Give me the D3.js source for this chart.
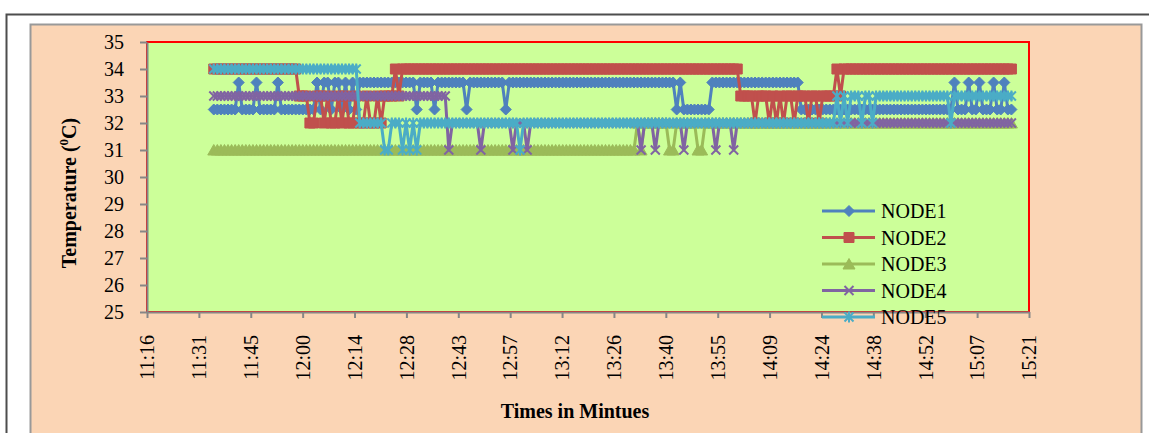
<!DOCTYPE html>
<html>
<head>
<meta charset="utf-8">
<script src="https://cdn.jsdelivr.net/npm/d3@7"></script>
<style>
html, body { margin: 0; padding: 0; background: #fff; }
svg { display: block; }
</style>
</head>
<body>
<svg id="chart" width="1149" height="433"></svg>
<script>
// ---- data -------------------------------------------------------------
const seriesNames = ['NODE1', 'NODE2', 'NODE3', 'NODE4', 'NODE5'];
const seriesColors = ['#4F81BD', '#C0504D', '#9BBB59', '#8064A2', '#4BACC6'];

// roughly one reading per minute starting here
const firstSample = '11:35:20';
const sampleStepSeconds = 59.3;

const node1 = [
  32.5,32.5,32.5,32.5,32.5,32.5,32.5,33.5,32.5,32.5,32.5,32.5,33.5,32.5,32.5,
  32.5,32.5,32.5,33.5,32.5,32.5,32.5,32.5,32.5,32.5,32.5,32.5,32.5,32.5,33.5,
  32.5,33.5,33.5,32.5,33.5,33.5,32.5,33.5,32.5,33.5,32.5,33.5,33.5,33.5,33.5,
  33.5,33.5,33.5,33.5,33.5,33.5,33.5,33.5,33.5,33.5,33.5,33.5,32.5,33.5,33.5,
  33.5,33.5,32.5,33.5,33.5,33.5,33.5,33.5,33.5,33.5,33.5,32.5,33.5,33.5,33.5,
  33.5,33.5,33.5,33.5,33.5,33.5,33.5,32.5,33.5,33.5,33.5,33.5,33.5,33.5,33.5,
  33.5,33.5,33.5,33.5,33.5,33.5,33.5,33.5,33.5,33.5,33.5,33.5,33.5,33.5,33.5,
  33.5,33.5,33.5,33.5,33.5,33.5,33.5,33.5,33.5,33.5,33.5,33.5,33.5,33.5,33.5,
  33.5,33.5,33.5,33.5,33.5,33.5,33.5,33.5,33.5,33.5,32.5,33.5,32.5,32.5,32.5,
  32.5,32.5,32.5,32.5,32.5,33.5,33.5,33.5,33.5,33.5,33.5,33.5,33.5,33.5,33.5,
  33.5,33.5,33.5,33.5,33.5,33.5,33.5,33.5,33.5,33.5,33.5,33.5,33.5,33.5,33.5,
  32.5,32.5,32.5,32.5,32.5,32.5,32.5,32.5,32.5,32.5,32.5,32.5,32.5,32.5,32.5,
  32.5,32.5,32.5,32.5,32.5,32.5,32.5,32.5,32.5,32.5,32.5,32.5,32.5,32.5,32.5,
  32.5,32.5,32.5,32.5,32.5,32.5,32.5,32.5,32.5,32.5,32.5,32.5,32.5,33.5,32.5,
  32.5,32.5,33.5,32.5,32.5,33.5,32.5,32.5,32.5,33.5,32.5,32.5,33.5,32.5,32.5
];

const node2 = [
  34,34,34,34,34,34,34,34,34,34,34,34,34,34,34,
  34,34,34,34,34,34,34,34,34,33,33,33,32,32,33,
  33,32,33,32,32,33,32,33,32,32,33,32,32,33,32,
  32,33,32,33,33,33,34,33,34,34,34,34,34,34,34,
  34,34,34,34,34,34,34,34,34,34,34,34,34,34,34,
  34,34,34,34,34,34,34,34,34,34,34,34,34,34,34,
  34,34,34,34,34,34,34,34,34,34,34,34,34,34,34,
  34,34,34,34,34,34,34,34,34,34,34,34,34,34,34,
  34,34,34,34,34,34,34,34,34,34,34,34,34,34,34,
  34,34,34,34,34,34,34,34,34,34,34,34,34,33,33,
  33,33,32,33,33,33,32,33,32,33,32,33,33,32,33,
  33,33,32,33,33,32,33,33,33,33,34,33,34,34,34,
  34,34,34,34,34,34,34,34,34,34,34,34,34,34,34,
  34,34,34,34,34,34,34,34,34,34,34,34,34,34,34,
  34,34,34,34,34,34,34,34,34,34,34,34,34,34,34
];

const node3 = [
  31,31,31,31,31,31,31,31,31,31,31,31,31,31,31,
  31,31,31,31,31,31,31,31,31,31,31,31,31,31,31,
  31,31,31,31,31,31,31,31,31,31,31,31,31,31,31,
  31,31,31,31,31,31,31,31,31,31,31,31,31,31,31,
  31,31,31,31,31,31,31,31,31,31,31,31,31,31,31,
  31,31,31,31,31,31,31,31,31,31,31,31,31,31,31,
  31,31,31,31,31,31,31,31,31,31,31,31,31,31,31,
  31,31,31,31,31,31,31,31,31,31,31,31,31,31,32,
  31,32,32,32,32,32,32,32,31,31,32,32,32,32,32,
  32,31,31,32,32,32,32,32,32,32,32,32,32,32,32,
  32,32,32,32,32,32,32,32,32,32,32,32,32,32,32,
  32,32,32,32,32,32,32,32,32,32,32,32,32,32,32,
  32,32,32,32,32,32,32,32,32,32,32,32,32,32,32,
  32,32,32,32,32,32,32,32,32,32,32,32,32,32,32,
  32,32,32,32,32,32,32,32,32,32,32,32,32,32,32
];

const node4 = [
  33,33,33,33,33,33,33,33,33,33,33,33,33,33,33,
  33,33,33,33,33,33,33,33,33,33,33,33,33,33,33,
  33,33,33,33,33,33,33,33,33,33,33,33,33,33,33,
  33,33,33,33,33,33,33,33,33,33,33,33,33,33,33,
  33,33,33,33,33,33,31,32,32,32,32,32,32,32,32,
  31,32,32,32,32,32,32,32,32,31,32,32,32,31,32,
  32,32,32,32,32,32,32,32,32,32,32,32,32,32,32,
  32,32,32,32,32,32,32,32,32,32,32,32,32,32,32,
  31,32,32,32,31,32,32,32,32,32,32,32,31,32,32,
  32,32,32,32,32,32,31,32,32,32,32,31,32,32,32,
  32,32,32,32,32,32,32,32,32,32,32,32,32,32,32,
  32,32,32,32,32,32,32,32,32,32,32,32,32,32,32,
  32,32,32,32,32,32,32,32,32,32,32,32,32,32,32,
  32,32,32,32,32,32,32,32,32,32,32,32,32,32,32,
  32,32,32,32,32,32,32,32,32,32,32,32,32,32,32
];

const node5 = [
  34,34,34,34,34,34,34,34,34,34,34,34,34,34,34,
  34,34,34,34,34,34,34,34,34,34,34,34,34,34,34,
  34,34,34,34,34,34,34,34,34,34,34,32,32,32,32,
  32,32,32,31,31,32,32,32,31,32,31,32,31,32,32,
  32,32,32,32,32,32,32,32,32,32,32,32,32,32,32,
  32,32,32,32,32,32,32,32,32,32,32,31,32,32,32,
  32,32,32,32,32,32,32,32,32,32,32,32,32,32,32,
  32,32,32,32,32,32,32,32,32,32,32,32,32,32,32,
  32,32,32,32,32,32,32,32,32,32,32,32,32,32,32,
  32,32,32,32,32,32,32,32,32,32,32,32,32,32,32,
  32,32,32,32,32,32,32,32,32,32,32,32,32,32,32,
  32,32,32,32,32,32,32,32,32,32,33,32,33,32,33,
  33,33,32,33,33,32,33,33,33,33,33,33,33,33,33,
  33,33,33,33,33,33,33,33,33,33,33,33,32,33,33,
  33,33,33,33,33,33,33,33,33,33,33,33,33,33,33
];

const yTicks = [25, 26, 27, 28, 29, 30, 31, 32, 33, 34, 35];

// excel time axis: 0.47 .. 0.64 day, one label every 0.01 day
const xAxisMinDay = 0.47;
const xAxisMaxDay = 0.64;
const xAxisStepDay = 0.01;
const xTickLabels = ['11:16', '11:31', '11:45', '12:00', '12:14', '12:28', '12:43', '12:57', '13:12',
  '13:26', '13:40', '13:55', '14:09', '14:24', '14:38', '14:52', '15:07', '15:21'];

// ---- layout -----------------------------------------------------------
const plot = {left: 147, right: 1029, top: 42, bottom: 312};
const serif = '"Liberation Serif", "Times New Roman", serif';
const axisGrey = '#868686';

const toDay = (hms) => {
    const [h, m, s = 0] = hms.split(':').map(Number);
    return (h * 3600 + m * 60 + s) / 86400;
};
const startDay = toDay(firstSample);
const stepDay = sampleStepSeconds / 86400;

const x = d3.scaleLinear()
    .domain([xAxisMinDay, xAxisMaxDay])
    .range([plot.left, plot.right]);

const y = d3.scaleLinear()
    .domain([yTicks[0], yTicks[yTicks.length - 1]])
    .range([plot.bottom, plot.top]);

const series = [node1, node2, node3, node4, node5].map((values, k) => ({
    name: seriesNames[k],
    color: seriesColors[k],
    points: values.map((v, i) => ({t: startDay + i * stepDay, v}))
}));

const svg = d3.select('#chart');

// page frame + chart area
svg.append('path')
    .attr('d', 'M6.5,433V14.5H1149')
    .attr('fill', 'none')
    .attr('stroke', '#4d4d4d')
    .attr('stroke-width', 2);

svg.append('rect')
    .attr('x', 30.5).attr('y', 24.5)
    .attr('width', 1111).attr('height', 430)
    .attr('fill', '#FBD5B5')
    .attr('stroke', '#999999')
    .attr('stroke-width', 2);

svg.append('rect')
    .attr('x', plot.left).attr('y', plot.top)
    .attr('width', plot.right - plot.left)
    .attr('height', plot.bottom - plot.top)
    .attr('fill', '#CCFF99')
    .attr('stroke', '#FF0000')
    .attr('stroke-width', 2);

// axes
const yAxis = d3.axisLeft(y)
    .tickValues(yTicks)
    .tickSize(7)
    .tickSizeOuter(0)
    .tickPadding(16)
    .tickFormat(d3.format('d'));

const gy = svg.append('g')
    .attr('transform', `translate(${plot.left},0)`)
    .call(yAxis);

const xTickValues = xTickLabels.map((_, k) => xAxisMinDay + k * xAxisStepDay);
const xAxis = d3.axisBottom(x)
    .tickValues(xTickValues)
    .tickSize(6)
    .tickSizeOuter(0)
    .tickFormat((d, k) => xTickLabels[k]);

const gx = svg.append('g')
    .attr('transform', `translate(0,${plot.bottom})`)
    .call(xAxis);

gx.selectAll('.tick text')
    .attr('transform', 'rotate(-90)')
    .attr('x', -23)
    .attr('y', 0)
    .attr('dy', '0.34em')
    .attr('text-anchor', 'end');

[gx, gy].forEach((g) => {
    g.attr('font-family', serif).attr('font-size', 20);
    g.select('.domain').attr('stroke', axisGrey).attr('stroke-width', 2);
    g.selectAll('.tick line').attr('stroke', axisGrey).attr('stroke-width', 2);
    g.selectAll('.tick text').attr('fill', '#000');
});

// axis titles
const yTitle = svg.append('text')
    .attr('transform', 'translate(76,193) rotate(-90)')
    .attr('text-anchor', 'middle')
    .attr('font-family', serif)
    .attr('font-size', 20)
    .attr('font-weight', 'bold');
yTitle.append('tspan').text('Temperature (');
yTitle.append('tspan').attr('font-size', 13).attr('dy', -8).text('0');
yTitle.append('tspan').attr('dy', 8).text('C)');

svg.append('text')
    .attr('x', 575).attr('y', 418)
    .attr('text-anchor', 'middle')
    .attr('font-family', serif)
    .attr('font-size', 20)
    .attr('font-weight', 'bold')
    .text('Times in Mintues');

// markers
const markerPaths = [
    'M0,-5.5L5.5,0L0,5.5L-5.5,0Z',
    'M-5,-5H5V5H-5Z',
    'M0,-5.5L6,5L-6,5Z',
    'M-4.5,-4.5L4.5,4.5M-4.5,4.5L4.5,-4.5',
    'M-4.5,-4.5L4.5,4.5M-4.5,4.5L4.5,-4.5M0,-5.5V5.5'
];
const strokeOnly = [false, false, false, true, true];

function drawMarker(sel, k) {
    sel.attr('d', markerPaths[k])
        .attr('fill', strokeOnly[k] ? 'none' : seriesColors[k])
        .attr('stroke', seriesColors[k])
        .attr('stroke-width', strokeOnly[k] ? 2 : 1);
}

const line = d3.line()
    .x(d => x(d.t))
    .y(d => y(d.v));

series.forEach((s, k) => {
    const g = svg.append('g').attr('class', `series series--${s.name}`);
    g.append('path')
        .datum(s.points)
        .attr('d', line)
        .attr('fill', 'none')
        .attr('stroke', s.color)
        .attr('stroke-width', 3)
        .attr('stroke-linejoin', 'round');
    g.selectAll('path.marker').data(s.points)
        .enter().append('path')
            .attr('class', 'marker')
            .attr('transform', d => `translate(${x(d.t)},${y(d.v)})`)
            .call(drawMarker, k);
});

// legend
const legend = svg.append('g')
    .attr('transform', 'translate(822,211)');

const item = legend.selectAll('.item').data(series)
    .enter().append('g')
        .attr('class', 'item')
        .attr('transform', (d, k) => `translate(0,${k * 26.5})`);

item.append('line')
    .attr('x1', 0).attr('x2', 53)
    .attr('stroke', d => d.color)
    .attr('stroke-width', 3);

item.append('path')
    .attr('transform', 'translate(27,0)')
    .each(function(d, k) { d3.select(this).call(drawMarker, k); });

item.append('text')
    .attr('x', 59).attr('y', 7)
    .attr('font-family', serif)
    .attr('font-size', 20)
    .attr('fill', '#000')
    .text(d => d.name);
</script>
</body>
</html>
